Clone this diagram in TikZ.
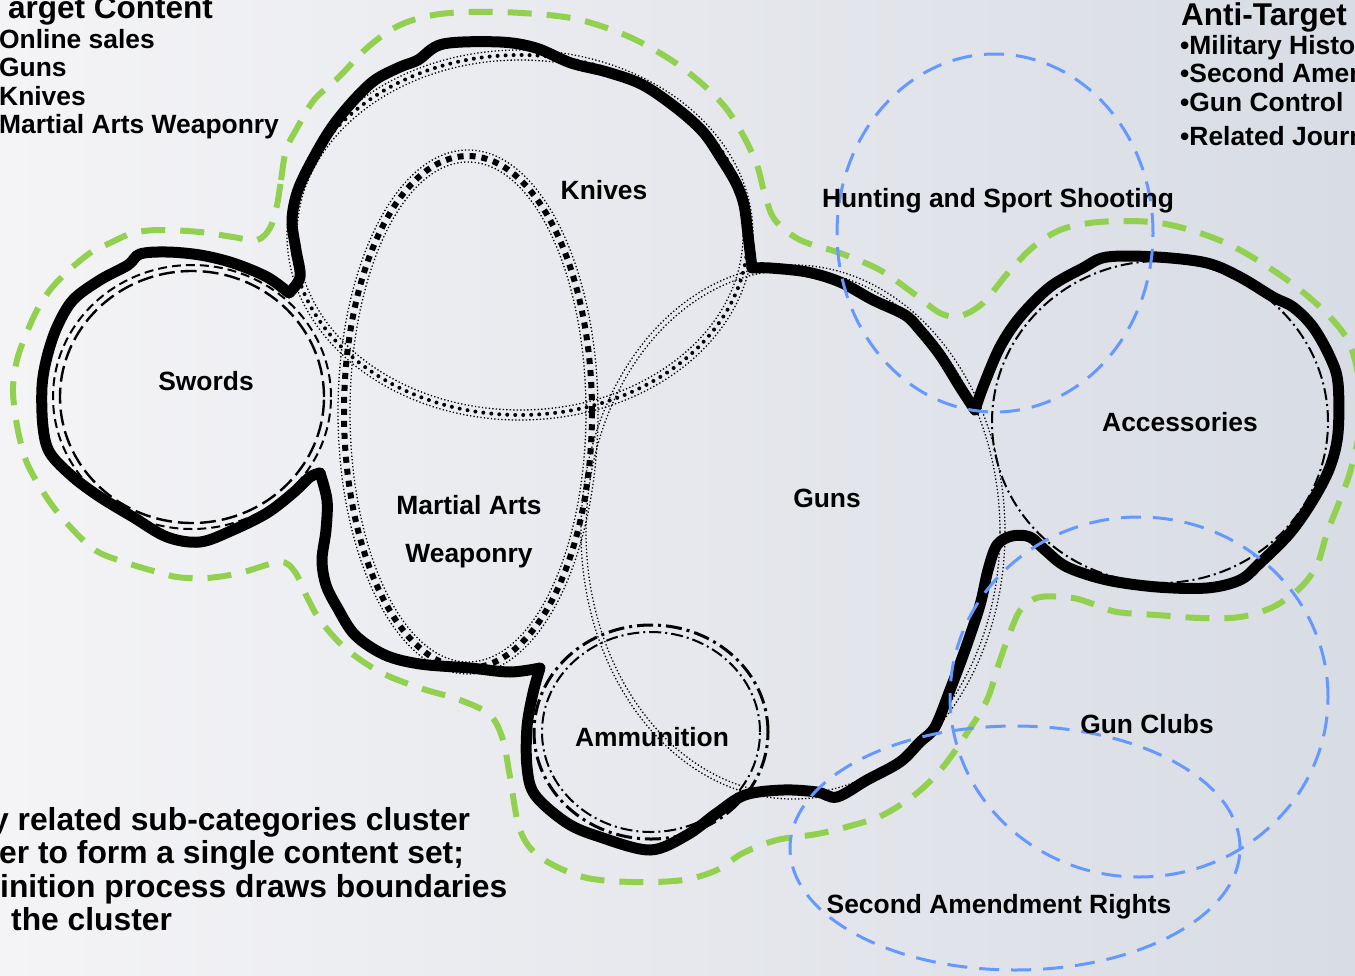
\documentclass[tikz,border=0pt]{standalone}
\usepackage{fontspec}
\setmainfont{Liberation Sans}
\definecolor{grn}{RGB}{146,208,80}
\definecolor{blu}{RGB}{102,153,255}
\definecolor{bgl}{RGB}{244,244,246}
\definecolor{bgr}{RGB}{216,220,228}
\tikzset{
  blackline/.style={line width=11pt, line cap=round, line join=round},
  greendash/.style={draw=grn, line width=6pt, dash pattern=on 24pt off 15pt},
  bluedash/.style={draw=blu, line width=3pt, dash pattern=on 20pt off 12pt},
  thindot/.style={line width=1.3pt, dash pattern=on 1.3pt off 2.2pt},
  bigdot/.style={line width=4pt, line cap=round, dash pattern=on 0pt off 8pt},
  squaredot/.style={line width=6pt, dash pattern=on 6pt off 6pt},
  swdash/.style={line width=2pt, dash pattern=on 9pt off 5pt},
  swlong/.style={line width=2.4pt, dash pattern=on 16pt off 6pt},
  dashdot/.style={line width=2pt, dash pattern=on 12pt off 4pt on 2pt off 4pt},
  dashdotb/.style={line width=3pt, dash pattern=on 16pt off 5pt on 3pt off 5pt},
  lbl/.style={font=\fontsize{26.4}{31}\selectfont\bfseries, inner sep=0pt, text height=19pt, text depth=0pt},
  txt/.style={font=\fontsize{26.4}{29}\selectfont\bfseries, inner sep=0pt, anchor=base west},
  head/.style={font=\fontsize{31.5}{34}\selectfont\bfseries, inner sep=0pt, anchor=base west},
  body/.style={font=\fontsize{31.8}{34}\selectfont\bfseries, inner sep=0pt, anchor=base west}
}
\begin{document}
\begin{tikzpicture}[x=1pt,y=-1pt]
\useasboundingbox (0,0) rectangle (1355,975);
\clip (0,0) rectangle (1355,975);
\shade[left color=bgl, right color=bgr] (0,0) rectangle (1355,975);

% green target boundary
\draw[greendash] plot[smooth cycle, tension=0.55] coordinates {
(277,205) (281,180) (286,150) (296,130) (314,100) (339,77) (368,47) (400,25) (440,14) (500,12) (571,18) (625,35) (668,58) (700,82) (725,107) (743,135) (757,165) (765,195) (775,220) (800,240) (840,253) (880,270) (913,293) (940,313) (960,316) (983,303) (1007,274) (1033,247) (1060,230) (1090,223) (1123,221) (1160,223) (1200,233) (1240,250) (1290,282) (1330,317) (1352,350) (1362,410) (1352,465) (1340,500) (1327,533) (1317,565) (1300,588) (1273,607) (1240,617) (1200,618) (1157,615) (1117,612) (1093,604) (1073,598) (1040,597) (1022,608) (1013,625) (1000,660) (987,700) (967,733) (943,767) (917,793) (883,815) (850,826) (817,834) (777,840) (743,853) (717,870) (683,880) (633,882) (583,877) (540,857) (520,830) (510,777) (503,740) (490,715) (460,700) (420,688) (380,672) (345,648) (320,620) (307,597) (295,572) (280,562) (240,573) (207,578) (177,577) (150,570) (127,563) (100,553) (83,540) (58,513) (40,487) (27,463) (20,440) (15,413) (13,387) (17,360) (25,337) (37,310) (50,290) (67,272) (90,253) (110,243) (133,233) (160,230) (200,232) (233,237) (257,240) (270,228)};

% category centres
\coordinate (swc) at (192,397);
\coordinate (knc) at (520,235);
\coordinate (mac) at (468,412);
\coordinate (guc) at (793,532);
\coordinate (amc) at (651,732);
\coordinate (acc) at (1160,422);
\coordinate (huc) at (995,233);
\coordinate (gcc) at (1139,697);
\coordinate (sac) at (1015,848);

% Swords
\draw[swdash] (swc) ellipse [x radius=139pt, y radius=132pt];
\draw[swlong] (swc) ellipse [x radius=132pt, y radius=126pt];
% Knives
\draw[thindot] (knc) ellipse [x radius=233pt, y radius=185pt];
\draw[bigdot] (knc) ellipse [x radius=228pt, y radius=180pt];
\draw[thindot] (knc) ellipse [x radius=223pt, y radius=175pt];
% Martial arts
\draw[thindot] (mac) ellipse [x radius=130pt, y radius=262pt];
\draw[squaredot] (mac) ellipse [x radius=124pt, y radius=256pt];
\draw[thindot] (mac) ellipse [x radius=118pt, y radius=250pt];
% Guns
\draw[thindot] (guc) ellipse [x radius=212pt, y radius=267pt];
\draw[thindot] (guc) ellipse [x radius=207pt, y radius=262pt];
% Ammunition
\draw[dashdotb] (amc) ellipse [x radius=117pt, y radius=107pt];
\draw[dashdot] (amc) ellipse [x radius=109pt, y radius=100pt];
% Accessories
\draw[dashdot] (acc) ellipse [x radius=168pt, y radius=161pt];

% black cluster outline
\draw[blackline] plot[smooth, tension=0.55] coordinates {
(320,473) (327,500) (326,530) (322,560) (326,585) (337,607) (355,635) (385,655) (420,664) (470,668) (510,672) (540,668)};
\draw[blackline] plot[smooth, tension=0.55] coordinates {
(540,668) (533,693) (527,727) (527,767) (535,795) (567,823) (600,837) (650,850) (687,835) (717,813) (745,795) (783,790) (817,792) (837,797) (867,780) (900,762) (920,742) (935,727) (950,690) (965,650) (980,605) (988,570) (997,545) (1012,536) (1030,537) (1045,550) (1067,567) (1107,580) (1157,587) (1207,588) (1240,580) (1260,563) (1290,533) (1313,500) (1330,467) (1338,433) (1338,383) (1330,357) (1313,327) (1293,307) (1273,297) (1240,277) (1207,263) (1157,257) (1107,257) (1083,268) (1050,287) (1020,317) (1000,347) (983,387) (975,410)};
\draw[blackline] plot[smooth, tension=0.55] coordinates {
(975,410) (960,387) (940,355) (920,330) (905,315) (873,300) (840,282) (807,272) (770,268) (752,268)};
\draw[blackline] plot[smooth, tension=0.55] coordinates {
(752,268) (748,235) (744,205) (736,183) (721,158) (704,133) (679,110) (643,85) (607,72) (571,63) (536,48) (500,42) (443,44) (418,60) (400,67) (375,80) (354,100) (332,127) (314,157) (298,190) (292,220) (296,250) (300,277) (289,293)};
\draw[blackline] plot[smooth, tension=0.55] coordinates {
(289,293) (267,277) (233,263) (200,255) (167,252) (140,254) (128,265) (100,280) (73,300) (57,327) (47,357) (42,387) (43,427) (50,453) (73,477) (100,497) (133,517) (167,537) (200,542) (233,530) (267,513) (293,493) (310,477) (320,473)};

% anti-target (blue)
\draw[bluedash] (huc) ellipse [x radius=158pt, y radius=179pt];
\draw[bluedash] (gcc) ellipse [x radius=189pt, y radius=180pt];
\draw[bluedash] (sac) ellipse [x radius=225pt, y radius=122pt];

% labels
\node[lbl] (knl) at (604,190) {Knives};
\node[lbl] (swl) at (206,381) {Swords};
\node[lbl, align=center] (mal) at (469,553) {Martial Arts\\[17pt]Weaponry};
\node[lbl] (gul) at (827,498) {Guns};
\node[lbl] (hul) at (998,198) {Hunting and Sport Shooting};
\node[lbl] (acl) at (1180,422) {Accessories};
\node[lbl] (aml) at (652,737) {Ammunition};
\node[lbl] (gcl) at (1147,724) {Gun Clubs};
\node[lbl] (sal) at (999,904) {Second Amendment Rights};

% target list
\node[head] (tgh) at (8,18) {arget Content};
\node[txt] (tg1) at (-1,48) {Online sales};
\node[txt] (tg2) at (-1,76) {Guns};
\node[txt] (tg3) at (-1,105) {Knives};
\node[txt] (tg4) at (-1,133) {Martial Arts Weaponry};

% anti-target list
\node[head] (ath) at (1181,25) {Anti-Target};
\node[txt] (at1) at (1180,54) {•Military Histo};
\node[txt] (at2) at (1180,82) {•Second Amer};
\node[txt] (at3) at (1180,111) {•Gun Control};
\node[txt] (at4) at (1180,145) {•Related Journ};

% bottom note
\node[body] (bt1) at (-9,830) {y related sub-categories cluster};
\node[body] (bt2) at (-1,863) {er to form a single content set;};
\node[body] (bt3) at (0,897) {inition process draws boundaries};
\node[body] (bt4) at (11,930) {the cluster};
\end{tikzpicture}
\end{document}
